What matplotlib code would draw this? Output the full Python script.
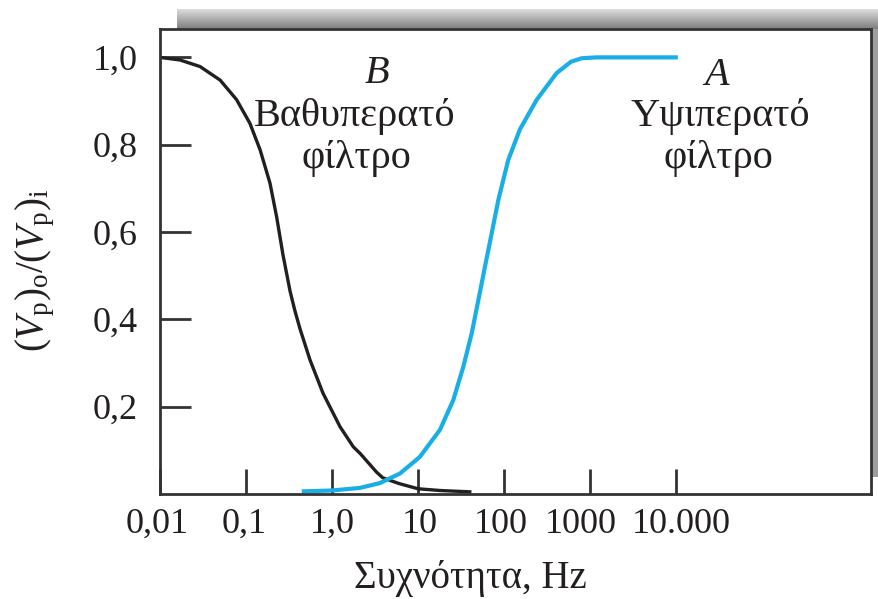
import matplotlib
matplotlib.use("Agg")
import matplotlib.pyplot as plt
import matplotlib.transforms as mtransforms
from matplotlib.ticker import NullLocator, FixedLocator
import numpy as np

plt.rcParams['font.family'] = ['Liberation Serif', 'DejaVu Serif']
plt.rcParams['mathtext.fontset'] = 'custom'
plt.rcParams['mathtext.rm'] = 'Liberation Serif'
plt.rcParams['mathtext.it'] = 'Liberation Serif:italic'

# values
freq_low = [0.01, 0.0171, 0.0292, 0.05, 0.0778, 0.111, 0.146, 0.19, 0.227, 0.269,
            0.325, 0.37, 0.425, 0.555, 0.785, 1.24, 1.77, 2.12, 3.3, 3.9, 6.0, 10, 18, 40]
gain_low = [1.0, 0.994, 0.979, 0.948, 0.903, 0.849, 0.788, 0.712, 0.635, 0.548,
            0.465, 0.42, 0.378, 0.307, 0.231, 0.154, 0.108, 0.093, 0.05, 0.037, 0.024,
            0.012, 0.008, 0.005]

freq_high = [0.445, 1.0, 2.12, 3.6, 6.18, 10.5, 18.0, 25.7, 33.7, 42.1, 50.3, 60.1,
             71.9, 86, 112, 153, 240, 409, 600, 800, 1200, 10500]
gain_high = [0.006, 0.008, 0.014, 0.025, 0.047, 0.085, 0.147, 0.215, 0.292, 0.368,
             0.444, 0.521, 0.597, 0.674, 0.765, 0.835, 0.903, 0.964, 0.99, 0.998, 1.0, 1.0]

xticks = [0.01, 0.1, 1, 10, 100, 1000, 10000]
xtick_labels = ['0,01', '0,1', '1,0', '10', '100', '1000', '10.000']
yticks = [0.2, 0.4, 0.6, 0.8, 1.0]
ytick_labels = ['0,2', '0,4', '0,6', '0,8', '1,0']

W, H = 879, 599
fig = plt.figure(figsize=(W / 100, H / 100), dpi=100)

def frac(x0, y0, x1, y1):
    return [x0 / W, 1 - y1 / H, (x1 - x0) / W, (y1 - y0) / H]

# shadow behind the frame
sh = fig.add_axes(frac(177, 9, 878, 477), zorder=0)
grad = np.ones((468, 1)) * 0.62
grad[:20, 0] = np.linspace(0.86, 0.5, 20)
sh.imshow(grad, cmap='gray', vmin=0, vmax=1, aspect='auto', interpolation='bilinear')
sh.set_axis_off()

ax = fig.add_axes(frac(160, 29, 871, 494), zorder=1)
ax.set_facecolor('white')
ax.plot(freq_low, gain_low, color='#231f20', lw=2.4, solid_joinstyle='round')
ax.plot(freq_high, gain_high, color='#1aaee6', lw=3.0, solid_joinstyle='round',
        solid_capstyle='butt')

ax.set_xscale('log')
ax.set_xlim(0.01, 1.85e6)
ax.set_ylim(0, 1.065)
ax.xaxis.set_major_locator(FixedLocator(xticks))
ax.xaxis.set_minor_locator(NullLocator())
ax.set_xticklabels(xtick_labels)
ax.set_yticks(yticks)
ax.set_yticklabels(ytick_labels)

for s in ax.spines.values():
    s.set_linewidth(2.0)
    s.set_color('#333333')
ax.tick_params(axis='both', direction='in', width=2.0, color='#333333',
               labelsize=26, labelcolor='#231f20')
ax.tick_params(axis='x', length=18, pad=10)
ax.tick_params(axis='y', length=22, pad=16)

# small sideways nudges of the x labels, as in the print
nudges = [-3, -2, 0, 2, -3, -9, 5]
for lab, dx in zip(ax.get_xticklabels(), nudges):
    lab.set_transform(lab.get_transform() +
                      mtransforms.ScaledTranslation(dx / 100, 0, fig.dpi_scale_trans))

ax.set_xlabel('Συχνότητα, Hz', fontsize=28, color='#231f20', va='center')
ax.xaxis.set_label_coords(0.437, -0.181)
ax.set_ylabel(r'$(V_\mathrm{p})_\mathrm{o}/(V_\mathrm{p})_\mathrm{i}$', fontsize=28,
              color='#231f20', va='center')
ax.yaxis.set_label_coords(-0.176, 0.482)

txt = dict(transform=ax.transAxes, ha='center', va='center', fontsize=29, color='#231f20')
ax.text(0.305, 0.905, 'B', style='italic', **txt)
ax.text(0.274, 0.812, 'Βαθυπερατό', **txt)
ax.text(0.276, 0.722, 'φίλτρο', **txt)
ax.text(0.783, 0.901, 'A', style='italic', **txt)
ax.text(0.788, 0.812, 'Υψιπερατό', **txt)
ax.text(0.785, 0.722, 'φίλτρο', **txt)

fig.savefig('out.png', dpi=100)
